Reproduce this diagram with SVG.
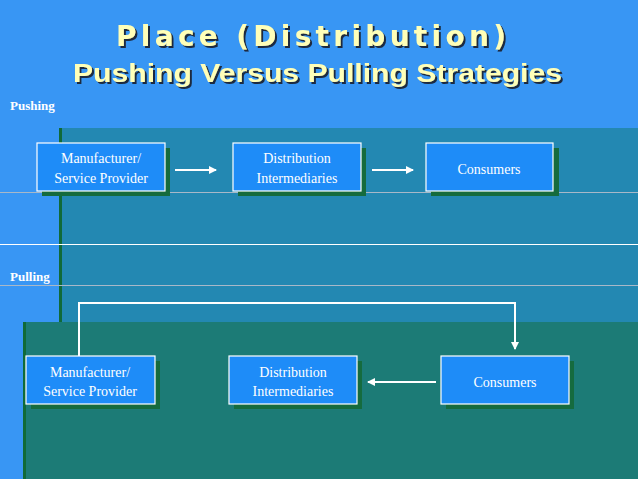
<svg xmlns="http://www.w3.org/2000/svg" width="638" height="479" viewBox="0 0 638 479">
<defs>
<marker id="ah" markerWidth="8" markerHeight="8" refX="7" refY="4" orient="auto" markerUnits="userSpaceOnUse"><path d="M0,0 L8,4 L0,8 Z" fill="#fff"/></marker>
<filter id="ds" x="-5%" y="-20%" width="110%" height="140%"><feDropShadow dx="2" dy="2" stdDeviation="0.3" flood-color="#1a2a40" flood-opacity="1"/></filter>
<style>
.box{fill:#1e8cf8;stroke:#fff;stroke-width:1.2}
.sh{fill:#156b3e}
.bt{font-family:"Liberation Serif",serif;font-size:14px;fill:#fff;text-anchor:middle}
.lab{font-family:"Liberation Serif",serif;font-size:13px;font-weight:bold;fill:#fff}
.con{stroke:#fff;stroke-width:2;fill:none}
.t1{font-family:"DejaVu Sans",sans-serif;font-weight:bold;fill:#ffffb8;filter:url(#ds)}
</style>
</defs>
<rect width="638" height="479" fill="#3896f4"/>
<rect x="59" y="128" width="579" height="351" fill="#2388b2"/>
<rect x="59" y="128" width="3" height="351" fill="#106a38"/>
<rect x="23" y="322" width="615" height="157" fill="#1c7b76"/>
<rect x="23" y="322" width="3" height="157" fill="#106a38"/>
<line x1="0" y1="192.5" x2="638" y2="192.5" stroke="#a8b8c8" stroke-width="1"/>
<line x1="0" y1="244.5" x2="638" y2="244.5" stroke="#fff" stroke-width="1"/>
<line x1="0" y1="285.5" x2="638" y2="285.5" stroke="#a8b8c8" stroke-width="1"/>
<g id="title">
<text x="116" y="46" class="t1" font-size="28" textLength="390" lengthAdjust="spacing">Place  (Distribution)</text>
<text x="73" y="82" class="t1" font-size="26" style="font-family:'Liberation Sans',sans-serif" textLength="489" lengthAdjust="spacingAndGlyphs">Pushing Versus Pulling Strategies</text>
</g>
<text x="10" y="110" class="lab">Pushing</text>
<text x="10" y="281" class="lab">Pulling</text>
<g id="connectors">
<line x1="175" y1="170" x2="216" y2="170" class="con" marker-end="url(#ah)"/>
<line x1="372" y1="170" x2="413" y2="170" class="con" marker-end="url(#ah)"/>
<path d="M79,356 V303 H515 V349" class="con" marker-end="url(#ah)"/>
<line x1="436" y1="382" x2="368" y2="382" class="con" marker-end="url(#ah)"/>
</g>
<g id="n1"><rect x="42" y="148" width="128" height="48" class="sh"/><rect x="37" y="143" width="128" height="48" class="box"/><text x="101" y="163" class="bt">Manufacturer/</text><text x="101" y="183" class="bt">Service Provider</text></g>
<g id="n2"><rect x="238" y="148" width="128" height="48" class="sh"/><rect x="233" y="143" width="128" height="48" class="box"/><text x="297" y="163" class="bt">Distribution</text><text x="297" y="183" class="bt">Intermediaries</text></g>
<g id="n3"><rect x="431" y="148" width="128" height="48" class="sh"/><rect x="426" y="143" width="127" height="48" class="box"/><text x="489" y="174" class="bt">Consumers</text></g>
<g id="n4"><rect x="31" y="361" width="129" height="48" class="sh"/><rect x="26" y="356" width="129" height="48" class="box"/><text x="90" y="377" class="bt">Manufacturer/</text><text x="90" y="396" class="bt">Service Provider</text></g>
<g id="n5"><rect x="234" y="361" width="128" height="48" class="sh"/><rect x="229" y="356" width="128" height="48" class="box"/><text x="293" y="377" class="bt">Distribution</text><text x="293" y="396" class="bt">Intermediaries</text></g>
<g id="n6"><rect x="446" y="361" width="128" height="48" class="sh"/><rect x="441" y="356" width="128" height="48" class="box"/><text x="505" y="387" class="bt">Consumers</text></g>
</svg>
